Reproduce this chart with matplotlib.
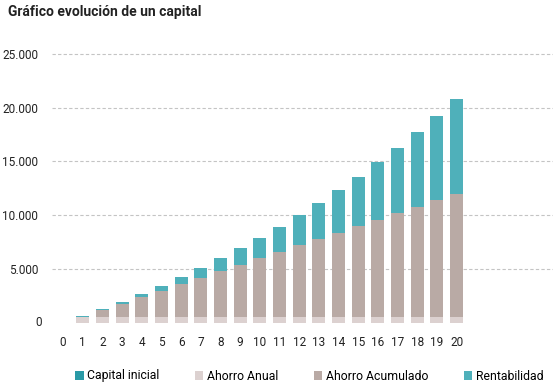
import numpy as np
import matplotlib.pyplot as plt
from matplotlib.patches import Patch
from matplotlib.ticker import FuncFormatter

plt.rcParams['font.family'] = ['Roboto', 'DejaVu Sans']

# data
years = list(range(0, 21))
capital_inicial = [0] * 21
ahorro_anual = [0] + [600] * 20
ahorro_acumulado = [0, 0, 600, 1200, 1800, 2400, 3000, 3600, 4200, 4800, 5400,
                    6000, 6600, 7200, 7800, 8400, 9000, 9600, 10200, 10800, 11400]
rentabilidad = [0, 30, 92, 186, 315, 481, 685, 930, 1216, 1547, 1924,
                2350, 2828, 3359, 3947, 4595, 5304, 6079, 6923, 7840, 8832]

labels = ["Capital inicial", "Ahorro Anual", "Ahorro Acumulado", "Rentabilidad"]
colors = ["#2a9aa6", "#dcd1d0", "#b9aaa5", "#4fb0ba"]

W, H = 553, 387
fig = plt.figure(figsize=(W / 100, H / 100), dpi=100)
# axes box in pixels: left 52, right 553, bottom 323, top 43
ax = fig.add_axes([52 / W, (H - 323) / H, (553 - 52) / W, (323 - 43) / H])

x = np.array(years)
bottom = np.zeros(len(years))
for vals, col in zip([capital_inicial, ahorro_anual, ahorro_acumulado, rentabilidad], colors):
    ax.bar(x, vals, width=0.66, bottom=bottom, color=col, linewidth=0, zorder=2)
    bottom += np.array(vals)

ax.set_xlim(-0.56, 24.9)
ax.set_ylim(0, 26000)
ax.set_yticks([5000, 10000, 15000, 20000, 25000])
ax.yaxis.set_major_formatter(FuncFormatter(lambda v, p: f"{int(v):,}".replace(",", ".")))
ax.set_xticks(years)
ax.grid(axis='y', color='#c4c4c4', linestyle=(0, (3, 2)), linewidth=0.8, zorder=0)
for s in ax.spines.values():
    s.set_visible(False)
ax.tick_params(axis='both', length=0, labelsize=8.5, colors='#222222')
ax.tick_params(axis='y', pad=10)
ax.tick_params(axis='x', pad=9)
# zero label on the y axis (no gridline there)
fig.text(42 / W, 1 - 323 / H, "0", ha='right', va='center', fontsize=8.5, color='#222222')

fig.text(8 / W, 1 - 12 / H, "Gráfico evolución de un capital", fontsize=10,
         fontweight='bold', ha='left', va='center', color='#222222')

handles = [Patch(facecolor=c, edgecolor='none') for c in colors]
fig.legend(handles, labels, loc='center left', bbox_to_anchor=(75 / W, 1 - 376 / H),
           ncol=4, frameon=False, fontsize=8.8, handlelength=0.7, handleheight=0.7,
           handletextpad=0.3, columnspacing=2.9, borderpad=0, borderaxespad=0)

fig.savefig("out.png", dpi=100)
